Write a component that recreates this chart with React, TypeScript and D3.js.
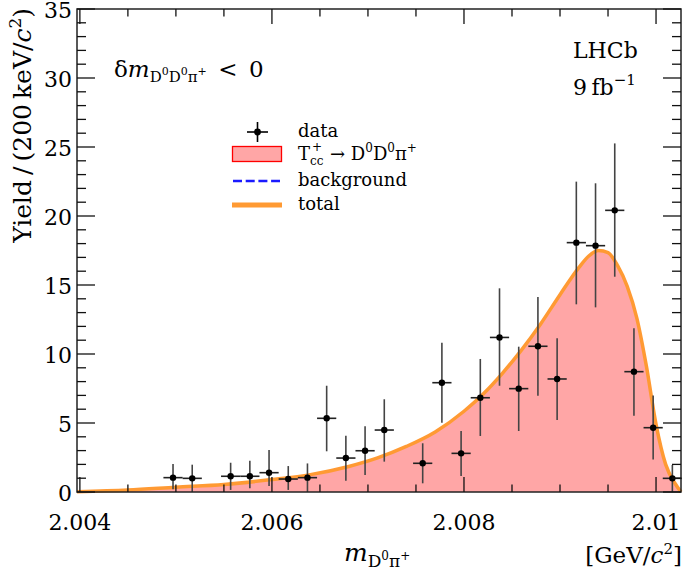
import React from 'react';
import * as d3 from 'd3';

// ---- data ----
const binCenters = [
  2.00497, 2.00517, 2.00557, 2.00577, 2.00597, 2.00617, 2.00637, 2.00657, 2.00677,
  2.00697, 2.00717, 2.00757, 2.00777, 2.00797, 2.00817, 2.00837, 2.00857, 2.00877,
  2.00897, 2.00917, 2.00937, 2.00957, 2.00977, 2.00997, 2.01017,
];
const yields = [
  1.04, 0.99, 1.14, 1.14, 1.4, 0.94, 1.04, 5.34, 2.46,
  2.99, 4.49, 2.08, 7.92, 2.8, 6.83, 11.2, 7.49, 10.56,
  8.19, 18.07, 17.85, 20.41, 8.72, 4.66, 0.99,
];
const errLow = [
  0.2, 0.0, 0.15, 0.27, 0.43, 0.15, 0.0, 2.95, 0.81,
  1.23, 2.2, 0.63, 5.02, 1.16, 4.06, 7.7, 4.42, 6.98,
  5.22, 13.6, 13.38, 15.6, 5.53, 2.35, 0.0,
];
const errHigh = [
  2.03, 1.98, 2.12, 2.27, 3.04, 1.88, 2.07, 7.7, 4.07,
  4.76, 6.72, 3.53, 10.82, 4.42, 9.64, 14.76, 10.53, 14.13,
  11.14, 22.49, 22.37, 25.26, 11.86, 7.0, 1.96,
];
const halfBin = 0.0001;

const curveX = [
  2.00397, 2.0045, 2.005, 2.0055, 2.006, 2.0064, 2.0068, 2.0071, 2.0074, 2.0077,
  2.008, 2.0082, 2.0084, 2.0086, 2.0088, 2.009, 2.0092, 2.0093, 2.0094, 2.0095,
  2.0096, 2.0097, 2.0098, 2.0099, 2.01, 2.0101, 2.0102, 2.01026,
];
const curveY = [
  0.02, 0.14, 0.35, 0.55, 0.9, 1.26, 1.85, 2.47, 3.3, 4.35,
  5.85, 7.1, 8.6, 10.3, 12.2, 14.3, 16.3, 17.1, 17.5, 17.35,
  16.4, 14.9, 12.6, 9.1, 4.9, 2.0, 0.6, 0.0,
];

const xMajorTicks = [2.004, 2.006, 2.008, 2.01];
const xTickLabels = ['2.004', '2.006', '2.008', '2.01'];
const yMajorTicks = [0, 5, 10, 15, 20, 25, 30, 35];
const yTickLabels = ['0', '5', '10', '15', '20', '25', '30', '35'];

const W = 685;
const H = 573;
const L = 77, R = 681, T = 9, B = 492;
const FONT = "DejaVu Serif";

export default function App() {
  const x = d3.scaleLinear().domain([2.00397, 2.01026]).range([L, R]);
  const y = d3.scaleLinear().domain([0, 35]).range([B, T]);

  const pts = curveX.map((cx, i) => [cx, curveY[i]] as [number, number]);
  const area = d3
    .area<[number, number]>()
    .x((d) => x(d[0]))
    .y0(y(0))
    .y1((d) => y(d[1]))
    .curve(d3.curveMonotoneX)(pts) as string;
  const line = d3
    .line<[number, number]>()
    .x((d) => x(d[0]))
    .y((d) => y(d[1]))
    .curve(d3.curveMonotoneX)(pts) as string;

  const xMinor = d3.range(2.004, 2.01026, 0.0005).filter(
    (v) => !xMajorTicks.some((m) => Math.abs(m - v) < 1e-7)
  );
  const yMinor = d3.range(0, 36, 1).filter((v) => v % 5 !== 0);

  const tickColor = '#111';
  const ts = { fontFamily: FONT };

  return (
    <svg
      width={W}
      height={H}
      style={{ position: 'fixed', left: 0, top: 0, background: '#fff', fontFamily: FONT }}
    >
      <rect x={0} y={0} width={W} height={H} fill="#fff" />
      <path d={area} fill="#ffa6a6" stroke="none" />
      <path d={line} fill="none" stroke="#ff9a33" strokeWidth={3.5} strokeLinejoin="round" />

      {binCenters.map((c, i) => (
        <g key={i}>
          <line x1={x(c)} x2={x(c)} y1={y(errLow[i])} y2={y(errHigh[i])} stroke="#444" strokeWidth={1.6} />
          <line x1={x(c - halfBin)} x2={x(c + halfBin)} y1={y(yields[i])} y2={y(yields[i])} stroke="#222" strokeWidth={1.6} />
          <circle cx={x(c)} cy={y(yields[i])} r={3.2} fill="#000" />
        </g>
      ))}

      <rect x={L} y={T} width={R - L} height={B - T} fill="none" stroke="#222" strokeWidth={1.5} />
      {xMajorTicks.map((v, i) => (
        <g key={'xm' + i}>
          <line x1={x(v)} x2={x(v)} y1={B} y2={B - 15} stroke={tickColor} strokeWidth={1.3} />
          <line x1={x(v)} x2={x(v)} y1={T} y2={T + 15} stroke={tickColor} strokeWidth={1.3} />
          <text x={x(v)} y={530} fontSize={22} textAnchor="middle" fill="#000" style={ts}>
            {xTickLabels[i]}
          </text>
        </g>
      ))}
      {xMinor.map((v, i) => (
        <g key={'xn' + i}>
          <line x1={x(v)} x2={x(v)} y1={B} y2={B - 7.5} stroke={tickColor} strokeWidth={1.3} />
          <line x1={x(v)} x2={x(v)} y1={T} y2={T + 7.5} stroke={tickColor} strokeWidth={1.3} />
        </g>
      ))}
      {yMajorTicks.map((v, i) => (
        <g key={'ym' + i}>
          <line x1={L} x2={L + 18} y1={y(v)} y2={y(v)} stroke={tickColor} strokeWidth={1.3} />
          <line x1={R} x2={R - 18} y1={y(v)} y2={y(v)} stroke={tickColor} strokeWidth={1.3} />
          <text x={72} y={y(v) + 9} fontSize={22} textAnchor="end" fill="#000" style={ts}>
            {yTickLabels[i]}
          </text>
        </g>
      ))}
      {yMinor.map((v, i) => (
        <g key={'yn' + i}>
          <line x1={L} x2={L + 9} y1={y(v)} y2={y(v)} stroke={tickColor} strokeWidth={1.3} />
          <line x1={R} x2={R - 9} y1={y(v)} y2={y(v)} stroke={tickColor} strokeWidth={1.3} />
        </g>
      ))}

      <text transform="translate(31,8) rotate(-90)" textAnchor="end" fontSize={25} fill="#000" style={ts}>
        Yield{'\u2009/\u2009'}(200{'\u2009'}keV/<tspan fontStyle="italic">c</tspan>
        <tspan dy={-10} fontSize={17}>2</tspan>
        <tspan dy={10}>)</tspan>
      </text>
      <text x={344} y={561} fontSize={25} fill="#000" style={ts}>
        <tspan fontStyle="italic">m</tspan>
        <tspan dy={6} fontSize={17}>D</tspan>
        <tspan dy={-7} fontSize={12}>0</tspan>
        <tspan dy={7} fontSize={17}>π</tspan>
        <tspan dy={-7} fontSize={12}>+</tspan>
      </text>
      <text x={682} y={563} fontSize={23} textAnchor="end" fill="#000" style={ts}>
        [GeV/<tspan fontStyle="italic">c</tspan>
        <tspan dy={-9} fontSize={15}>2</tspan>
        <tspan dy={9}>]</tspan>
      </text>

      <text x={114} y={77} fontSize={23} fill="#000" style={ts}>
        δ<tspan fontStyle="italic">m</tspan>
        <tspan dy={5} fontSize={15}>D</tspan>
        <tspan dy={-7} fontSize={11}>0</tspan>
        <tspan dy={7} fontSize={15}>D</tspan>
        <tspan dy={-7} fontSize={11}>0</tspan>
        <tspan dy={7} fontSize={15}>π</tspan>
        <tspan dy={-7} fontSize={11}>+</tspan>
        <tspan dy={2}>{'\u2002<\u20020'}</tspan>
      </text>
      <text x={573} y={58} fontSize={22} fill="#000" style={ts}>LHCb</text>
      <text x={573} y={95} fontSize={22} fill="#000" style={ts}>
        9{'\u2009'}fb<tspan dy={-10} fontSize={15}>−1</tspan>
      </text>

      <line x1={247} x2={268} y1={132} y2={132} stroke="#000" strokeWidth={1.6} />
      <line x1={257.5} x2={257.5} y1={122} y2={142} stroke="#000" strokeWidth={1.6} />
      <circle cx={257.5} cy={132} r={3.4} fill="#000" />
      <text x={298} y={137} fontSize={18} fill="#000" style={ts}>data</text>

      <rect x={232.5} y={146.5} width={49} height={15} fill="#ffa6a6" stroke="#ff0000" strokeWidth={1.3} />
      <text x={298} y={160} fontSize={18} fill="#000" style={ts}>T</text>
      <text x={310} y={165} fontSize={12} fill="#000" style={ts}>cc</text>
      <text x={312} y={151} fontSize={12} fill="#000" style={ts}>+</text>
      <text x={330} y={160} fontSize={18} fill="#000" style={ts}>
        → D<tspan dy={-8} fontSize={12}>0</tspan>
        <tspan dy={8}>D</tspan>
        <tspan dy={-8} fontSize={12}>0</tspan>
        <tspan dy={8}>π</tspan>
        <tspan dy={-8} fontSize={12}>+</tspan>
      </text>

      <line x1={233} x2={280} y1={181} y2={181} stroke="#1a1aff" strokeWidth={2.5} strokeDasharray="9,3.7" />
      <text x={298} y={186} fontSize={18} fill="#000" style={ts}>background</text>

      <line x1={232} x2={282} y1={205} y2={205} stroke="#ff9a33" strokeWidth={5} />
      <text x={298} y={210} fontSize={18} fill="#000" style={ts}>total</text>
    </svg>
  );
}
